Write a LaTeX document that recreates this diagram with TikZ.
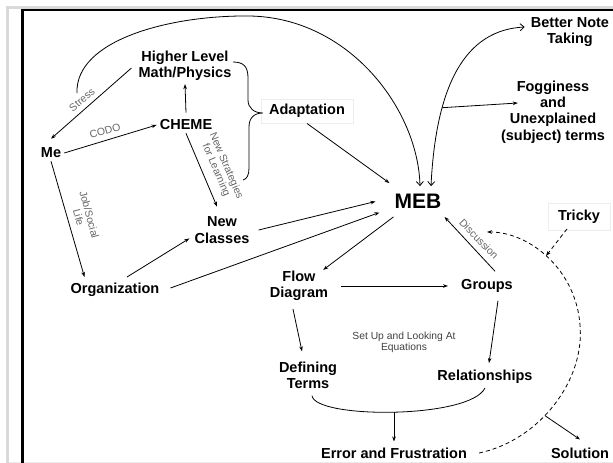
\documentclass[tikz,border=0pt]{standalone}
\usepackage{fontspec}
\setmainfont{Liberation Sans}
\usetikzlibrary{arrows.meta,calc}

\begin{document}
\begin{tikzpicture}[x=1pt,y=-1pt,
  concept/.style={font=\bfseries\fontsize{14.5}{16.3}\selectfont, align=center, inner sep=3pt},
  hub/.style={font=\bfseries\fontsize{21}{24}\selectfont, inner xsep=5pt, inner ysep=8pt},
  tag/.style={font=\fontsize{10.5}{11}\selectfont, text=black!60, align=center, inner sep=0pt},
  note/.style={font=\fontsize{10.3}{11.3}\selectfont, text=black!75, align=center},
  link/.style={line width=0.8pt, -{Stealth[length=5pt,width=3.6pt]}},
  openlink/.style={line width=0.8pt, -{Straight Barb[length=4pt,width=7pt]}},
  twoway/.style={line width=0.8pt, {Straight Barb[length=4pt,width=7pt]}-{Straight Barb[length=4pt,width=7pt]}},
  dlink/.style={line width=0.8pt, dash pattern=on 4pt off 3pt, -{Stealth[length=5pt,width=3.6pt]}},
  plain/.style={line width=0.8pt},
  faint/.style={draw=black!7, fill=white},
]
\useasboundingbox (0,0) rectangle (613,463);

% page frame
\draw[line width=3pt, black!15] (7.5,463) -- (7.5,7.5) -- (613,7.5);
\draw[line width=0.6pt, black!8] (9,462.5) -- (613,462.5);
\draw[line width=2.5pt] (22.5,463) -- (22.5,10) -- (613,10);

% concepts
\node[concept] (hl) at (185,66) {Higher Level\\Math/Physics};
\node[concept] (cheme) at (186,125) {CHEME};
\node[concept] (me) at (51,153) {Me};
\node[concept, faint, inner xsep=8pt, inner ysep=5.5pt] (adapt) at (307,111) {Adaptation};
\node[concept] (newc) at (222,230) {New\\Classes};
\node[concept] (org) at (115,290) {Organization};
\node[hub] (meb) at (418,201.5) {MEB};
\node[concept] (bnt) at (570,32) {Better Note\\Taking};
\node[concept] (fog) at (553,112) {Fogginess\\and\\Unexplained\\(subject) terms};
\node[concept, faint, inner xsep=10pt, inner ysep=6.5pt] (tricky) at (579,216.5) {Tricky};
\node[concept] (flow) at (299,286) {Flow\\Diagram};
\node[concept] (groups) at (487,286) {Groups};
\node[note] (setup) at (404,342) {Set Up and Looking At\\Equations};
\node[concept] (def) at (308,375) {Defining\\Terms};
\node[concept] (rel) at (485,377) {Relationships};
\node[concept] (err) at (394,453) {Error and Frustration};
\node[concept] (sol) at (580,453) {Solution};

% edge labels
\node[tag, rotate=40] (lstress) at (82,100) {Stress};
\node[tag, rotate=16] (lcodo) at (105,131) {CODO};
\node[tag, rotate=-67] (lstrat) at (221,168) {New Strategies\\for Learning};
\node[tag, rotate=-75] (ljob) at (84,216) {Job/Social\\Life};
\node[tag, rotate=-46] (ldisc) at (479,239) {Discussion};

% brace grouping the first three concepts under Adaptation
\draw[plain] (233,62) .. controls (244,62) and (248,67) .. (248,78) -- (248,100)
  .. controls (248,108) and (254,113) .. (263,113)
  .. controls (254,113) and (249,118) .. (249,127) -- (249,168)
  .. controls (249,175) and (247,179) .. (243,180);

% connectors on the left
\draw[link] ([xshift=-4pt,yshift=-2pt]hl.west) -- ([yshift=6pt]me.north);
\draw[link] (me.east) -- (cheme.west);
\draw[link] ([yshift=4pt]cheme.north) -- (hl.south);
\draw[link] (cheme.south) -- ([xshift=-5pt,yshift=7pt]newc.north);
\draw[link] (me.south) -- ([xshift=17pt,yshift=3pt]org.north west);
\draw[link] ([xshift=12pt,yshift=3pt]org.north) -- ([xshift=-2pt,yshift=8pt]newc.south west);

% connectors into MEB
\draw[link] (adapt.south) -- ([yshift=3pt]meb.north west);
\draw[link] ([xshift=6pt]newc.east) -- ([xshift=-14pt]meb.west);
\draw[link] ([xshift=8pt,yshift=2pt]org.east) -- ([xshift=-10pt,yshift=-11pt]meb.west);

\coordinate (arcstart) at (77,93);
\draw[openlink] (arcstart) .. controls (75,40) and (170,15) .. (250,16)
  .. controls (350,18) and (418,110) .. ([xshift=2pt]meb.north);

\draw[twoway] ([xshift=13pt]meb.north) .. controls (436,85) and (465,30) ..
  ([xshift=-3pt,yshift=5pt]bnt.west) coordinate[pos=0.3] (fork);
\draw[link] (fork) -- ([xshift=20pt,yshift=9pt]fog.west);

% lower part
\draw[link] ([xshift=4pt]meb.south west) -- ([xshift=-8pt,yshift=-2pt]flow.north east);
\draw[link] ([xshift=10pt]flow.east) -- ([xshift=-10pt]groups.west);
\draw[link] ([xshift=8pt,yshift=5pt]groups.north) -- ([xshift=-2pt]meb.south east);
\draw[link] ([xshift=11pt,yshift=-5pt]groups.south) -- ([xshift=4pt,yshift=4pt]rel.north);
\draw[link] ([xshift=-6pt,yshift=-5pt]flow.south) -- ([xshift=-6pt,yshift=7pt]def.north);

\draw[plain] ([xshift=4pt,yshift=-4pt]def.south) .. controls (315,419) and (470,419)
  .. ([yshift=-1pt]rel.south) coordinate[pos=0.5] (joint);
\draw[link] (joint) -- ([yshift=3pt]err.north);

% dashed feedback loop
\coordinate (loopend) at (487,232);
\draw[dlink] ([xshift=9pt]err.east) .. controls (540,440) and (585,380) .. (580,325)
  coordinate[pos=0.42] (split)
  .. controls (576,270) and (530,232) .. (loopend)
  coordinate[pos=0.52] (hit);
\draw[dlink] ([xshift=-12pt,yshift=1pt]tricky.south) -- (hit);
\draw[link] (split) -- ([yshift=5pt]sol.north);

\end{tikzpicture}
\end{document}
